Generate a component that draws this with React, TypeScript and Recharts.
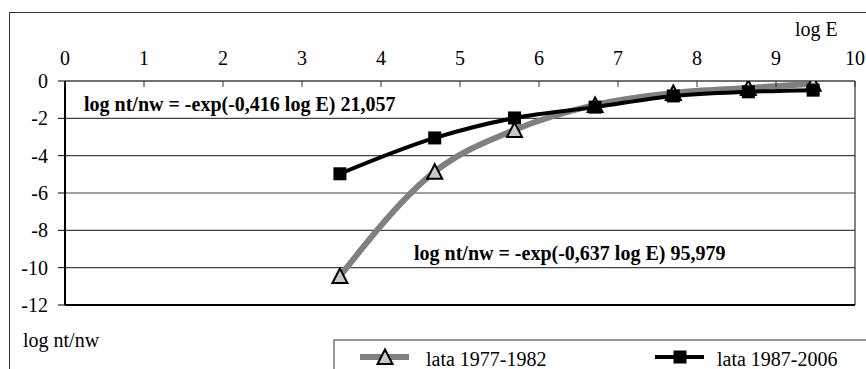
import React from 'react';
import {
  LineChart,
  Line,
  XAxis,
  YAxis,
  CartesianGrid,
  ReferenceLine
} from 'recharts';

const FONT = '"Liberation Serif", "Times New Roman", "DejaVu Serif", serif';

// log E positions of the measurements
const logE = [3.48, 4.68, 5.69, 6.71, 7.7, 8.65, 9.47];
// log nt/nw, lata 1977-1982
const lata1977 = [-10.45, -4.86, -2.62, -1.28, -0.64, -0.37, -0.15];
// log nt/nw, lata 1987-2006
const lata1987 = [-4.97, -3.05, -1.98, -1.4, -0.8, -0.58, -0.49];

const xTicks = [0, 1, 2, 3, 4, 5, 6, 7, 8, 9, 10];
const yTicks = [0, -2, -4, -6, -8, -10, -12];

const seriesNames = ['lata 1977-1982', 'lata 1987-2006'];
const equations = [
  'log nt/nw = -exp(-0,416 log E) 21,057',
  'log nt/nw = -exp(-0,637 log E) 95,979'
];

const data1977 = logE.map((x, i) => ({ x, y: lata1977[i] }));
const data1987 = logE.map((x, i) => ({ x, y: lata1987[i] }));

const Triangle = ({ cx, cy }: { cx: number; cy: number }) => (
  <polygon
    points={`${cx},${cy - 7.5} ${cx - 7.5},${cy + 7} ${cx + 7.5},${cy + 7}`}
    fill="#c8c8c8"
    stroke="#000"
    strokeWidth={2}
  />
);

const Square = ({ cx, cy }: { cx: number; cy: number }) => (
  <rect x={cx - 6.5} y={cy - 6.5} width={13} height={13} fill="#000" />
);

// top axis: labels above, short tick marks pointing into the plot
const TopTick = (props: any) => {
  const { x, y, payload } = props;
  return (
    <g>
      <text x={x} y={y} textAnchor="middle" fontSize={20} style={{ fontFamily: FONT }} fill="#000">
        {payload.value}
      </text>
      <line x1={x} x2={x} y1={y + 16} y2={y + 22} stroke="#333" strokeWidth={1} />
    </g>
  );
};

export default function App() {
  return (
    <div
      style={{
        position: 'fixed',
        left: 0,
        top: 0,
        width: 866,
        height: 369,
        overflow: 'hidden',
        background: '#fff',
        fontFamily: FONT
      }}
    >
      {/* outer frame */}
      <div
        style={{
          position: 'absolute',
          left: 9,
          top: 12,
          width: 900,
          height: 400,
          border: '1px solid #333'
        }}
      />

      <div style={{ position: 'absolute', left: 0, top: 0 }}>
        <LineChart
          width={866}
          height={369}
          margin={{ top: 51, right: 11, bottom: 64, left: 15 }}
          style={{ fontFamily: FONT }}
        >
          <CartesianGrid
            vertical={false}
            stroke="#444"
            strokeWidth={1.2}
            horizontalValues={yTicks}
          />
          <XAxis
            type="number"
            dataKey="x"
            orientation="top"
            domain={[0, 10]}
            ticks={xTicks}
            height={30}
            tickSize={0}
            tickMargin={16}
            tick={<TopTick />}
            axisLine={{ stroke: '#444', strokeWidth: 1.2 }}
            allowDataOverflow
          />
          <YAxis
            type="number"
            dataKey="y"
            domain={[-12, 0]}
            ticks={yTicks}
            width={50}
            tickSize={7}
            tickMargin={10}
            tick={{ fontSize: 20, fill: '#000', style: { fontFamily: FONT } }}
            tickLine={{ stroke: '#000' }}
            axisLine={{ stroke: '#000', strokeWidth: 2 }}
            allowDataOverflow
          />
          <ReferenceLine x={10} stroke="#333" strokeWidth={1.2} />
          <ReferenceLine y={-12} stroke="#000" strokeWidth={2} />
          <Line
            data={data1977}
            dataKey="y"
            name={seriesNames[0]}
            type="monotone"
            stroke="#808080"
            strokeWidth={6}
            dot={(p: any) => <Triangle key={`t${p.index}`} cx={p.cx} cy={p.cy} />}
            activeDot={false}
            isAnimationActive={false}
          />
          <Line
            data={data1987}
            dataKey="y"
            name={seriesNames[1]}
            type="monotone"
            stroke="#000"
            strokeWidth={4}
            dot={(p: any) => <Square key={`s${p.index}`} cx={p.cx} cy={p.cy} />}
            activeDot={false}
            isAnimationActive={false}
          />
        </LineChart>
      </div>

      {/* axis titles, fitted equations and legend */}
      <svg
        width={866}
        height={369}
        style={{ position: 'absolute', left: 0, top: 0, pointerEvents: 'none', fontFamily: FONT }}
      >
        <text x={795} y={36} fontSize={20} fill="#000">log E</text>
        <text x={23} y={347} fontSize={20} fill="#000">log nt/nw</text>

        <text x={84} y={111} fontSize={20} fontWeight="bold" fill="#000">{equations[0]}</text>
        <text x={414} y={260} fontSize={20} fontWeight="bold" fill="#000">{equations[1]}</text>

        <rect x={334} y={340} width={600} height={60} fill="none" stroke="#333" strokeWidth={1} />
        <line x1={360} x2={409} y1={357} y2={357} stroke="#808080" strokeWidth={6} />
        <Triangle cx={385} cy={357} />
        <text x={426} y={366} fontSize={20} fill="#000">{seriesNames[0]}</text>
        <line x1={655} x2={704} y1={357} y2={357} stroke="#000" strokeWidth={4} />
        <Square cx={680} cy={357} />
        <text x={717} y={366} fontSize={20} fill="#000">{seriesNames[1]}</text>
      </svg>
    </div>
  );
}
